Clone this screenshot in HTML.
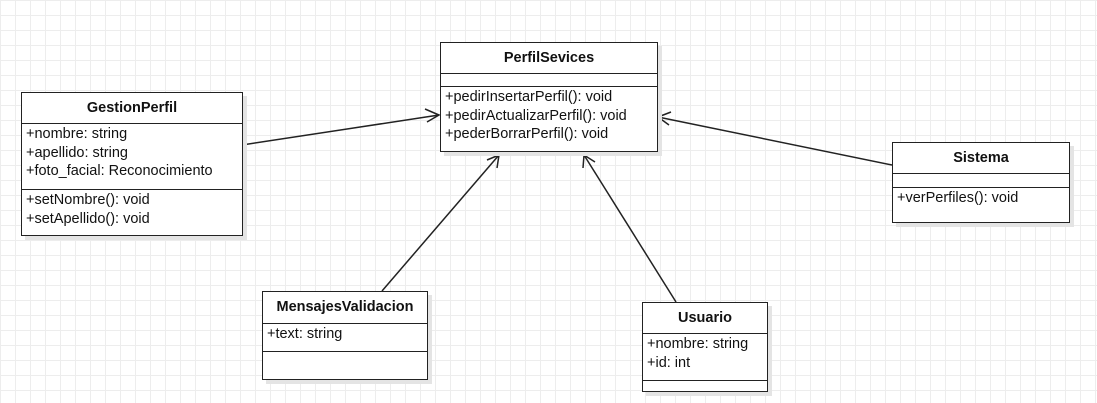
<!DOCTYPE html>
<html><head><meta charset="utf-8"><style>
body{margin:0;width:1097px;height:403px;overflow:hidden;background:#fff;
background-image:linear-gradient(#ededed 1px,transparent 1px),linear-gradient(90deg,#ededed 1px,transparent 1px);background-size:15px 15px;
font-family:"Liberation Sans",sans-serif;font-size:14.5px;color:#111}
.c{position:absolute;border:1.5px solid #222;background:#fff;box-shadow:4px 4px 0 #e4e4e4;box-sizing:border-box}
.h{font-weight:bold;text-align:center;border-bottom:1.5px solid #222;box-sizing:border-box}
.s{border-bottom:1.5px solid #222;box-sizing:border-box;padding:1px 0 0 4px;line-height:18.5px;white-space:nowrap}
.l{padding:1px 0 0 4px;line-height:18.5px;white-space:nowrap}
svg{position:absolute;left:0;top:0}
</style></head><body>
<svg width="1097" height="403">
<g stroke="#222" stroke-width="1.5" fill="none">
<line x1="242" y1="145" x2="439" y2="115"/><polyline points="425,109 439,115 427,122"/>
<line x1="892" y1="165" x2="658" y2="117"/><polyline points="671,112 658,117 669,125"/>
<line x1="382" y1="291" x2="499" y2="155"/><polyline points="487,160 499,155 497,168"/>
<line x1="676" y1="302" x2="584" y2="155"/><polyline points="583,168 584,155 595,162"/>
</g></svg>
<div class="c" style="left:440px;top:42px;width:218px;height:110px">
<div class="h" style="height:31px;line-height:30px">PerfilSevices</div>
<div class="s" style="height:13px;padding:0"></div>
<div class="l">+pedirInsertarPerfil(): void<br>+pedirActualizarPerfil(): void<br>+pederBorrarPerfil(): void</div></div>
<div class="c" style="left:21px;top:92px;width:222px;height:144px">
<div class="h" style="height:31px;line-height:30px">GestionPerfil</div>
<div class="s" style="height:66px">+nombre: string<br>+apellido: string<br>+foto_facial: Reconocimiento</div>
<div class="l">+setNombre(): void<br>+setApellido(): void</div></div>
<div class="c" style="left:892px;top:142px;width:178px;height:81px">
<div class="h" style="height:31px;line-height:30px">Sistema</div>
<div class="s" style="height:14px;padding:0"></div>
<div class="l">+verPerfiles(): void</div></div>
<div class="c" style="left:262px;top:291px;width:166px;height:89px">
<div class="h" style="height:32px;line-height:31px">MensajesValidacion</div>
<div class="s" style="height:28px">+text: string</div></div>
<div class="c" style="left:642px;top:302px;width:126px;height:90px">
<div class="h" style="height:31px;line-height:30px">Usuario</div>
<div class="s" style="height:47px">+nombre: string<br>+id: int</div></div>
</body></html>
